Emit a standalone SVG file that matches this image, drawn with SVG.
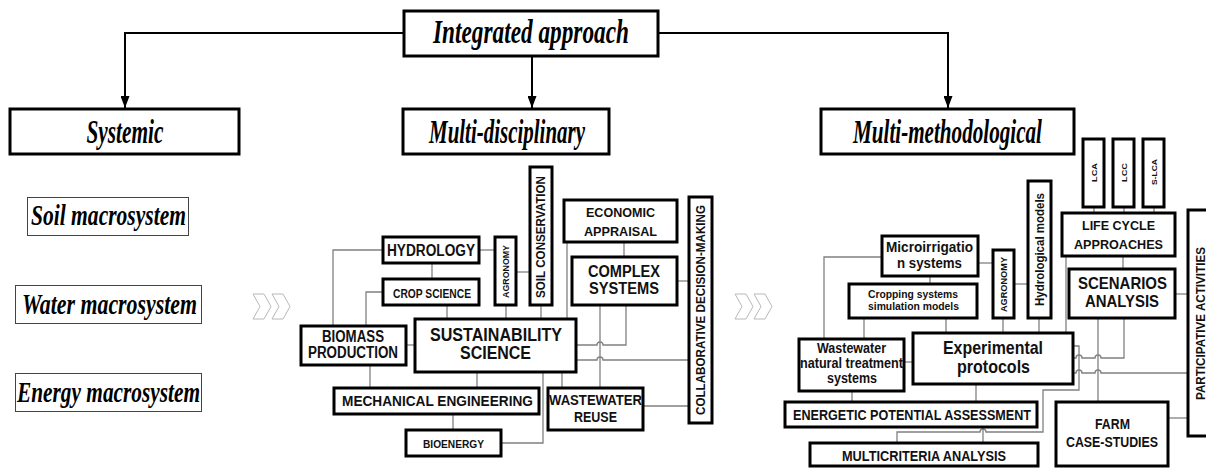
<svg xmlns="http://www.w3.org/2000/svg" width="1206" height="468" viewBox="0 0 1206 468">
<style>
.box{fill:#fff;stroke:#000;stroke-width:3}
.thin{fill:#fff;stroke:#444;stroke-width:1}
.c{fill:none;stroke:#808080;stroke-width:1.3}
.ar{fill:none;stroke:#000;stroke-width:2}
.chev{fill:#fff;stroke:#b8b8b8;stroke-width:1}
.t{font-family:"Liberation Sans",Arial,sans-serif;font-weight:bold;text-anchor:middle;fill:#111}
.s{font-family:"Liberation Serif","Times New Roman",serif;font-weight:bold;font-style:italic;text-anchor:middle;fill:#000}
</style>
<defs>
<marker id="ah" viewBox="0 0 12 9" refX="12" refY="4.5" markerWidth="12" markerHeight="9" markerUnits="userSpaceOnUse" orient="auto">
<path d="M0,0 L12,4.5 L0,9 z" fill="#000"/>
</marker>
</defs>

<g id="connectors">
<path class="ar" d="M404 33 H125 V108" marker-end="url(#ah)"/>
<path class="ar" d="M532 56 V108" marker-end="url(#ah)"/>
<path class="ar" d="M658 33 H948 V108" marker-end="url(#ah)"/>

<path class="c" d="M383 250 H333 V326"/>
<path class="c" d="M479 250 H495"/>
<path class="c" d="M432 263 V279"/>
<path class="c" d="M383 292 H366 V326"/>
<path class="c" d="M447 305 V319"/>
<path class="c" d="M506 305 V319"/>
<path class="c" d="M516 272 H530"/>
<path class="c" d="M541 305 V319"/>
<path class="c" d="M406 345 H415"/>
<path class="c" d="M370 365 V388"/>
<path class="c" d="M477 372 V388"/>
<path class="c" d="M453 414 V430"/>
<path class="c" d="M501 443 H543 V372"/>
<path class="c" d="M562 372 V388"/>
<path class="c" d="M567 242 V319"/>
<path class="c" d="M624 242 V257"/>
<path class="c" d="M677 281 H689"/>
<path class="c" d="M576 345 H597 a3 3 0 0 1 6 0 H626 V305"/>
<path class="c" d="M600 305 V388"/>
<path class="c" d="M576 360 H597 a3 3 0 0 1 6 0 H689"/>
<path class="c" d="M643 406 H689"/>

<path class="c" d="M882 257 H824 V339"/>
<path class="c" d="M978 263 H993"/>
<path class="c" d="M930 276 V284"/>
<path class="c" d="M864 318 V339"/>
<path class="c" d="M946 318 V333"/>
<path class="c" d="M904 362 H913"/>
<path class="c" d="M1014 284 H1028"/>
<path class="c" d="M1003 318 V333"/>
<path class="c" d="M1039 318 V333"/>
<path class="c" d="M1066 256 V333"/>
<path class="c" d="M1094 207 V213 M1124 207 V213 M1154 207 V213"/>
<path class="c" d="M1123 256 V269"/>
<path class="c" d="M1175 294 H1188"/>
<path class="c" d="M1073 358 H1076 a3 3 0 0 1 6 0 H1095 a3 3 0 0 1 6 0 H1124 V318"/>
<path class="c" d="M1098 318 V402"/>
<path class="c" d="M1073 373 H1076 a3 3 0 0 1 6 0 H1095 a3 3 0 0 1 6 0 H1188"/>
<path class="c" d="M1073 346 H1079 V390 H1043 V432 H986 a3 3 0 0 0 -6 0 H897 V443"/>
<path class="c" d="M983 427 V443"/>
<path class="c" d="M976 384 V402"/>
<path class="c" d="M852 391 V402"/>
<path class="c" d="M1168 418 H1188"/>
</g>

<g id="chevrons-left">
<path class="chev" d="M253 294 H264 L271 306.5 L264 319 H253 L260 306.5 Z"/>
<path class="chev" d="M272 294 H283 L290 306.5 L283 319 H272 L279 306.5 Z"/>
</g>
<g id="chevrons-right">
<path class="chev" d="M735 294 H746 L753 306.5 L746 319 H735 L742 306.5 Z"/>
<path class="chev" d="M754 294 H765 L772 306.5 L765 319 H754 L761 306.5 Z"/>
</g>

<g id="integrated">
<rect class="box" x="404" y="11" width="254" height="45"/>
<text class="s" x="531" y="43" font-size="34" textLength="196" lengthAdjust="spacingAndGlyphs">Integrated approach</text>
</g>
<g id="systemic">
<rect class="box" x="10" y="109" width="229" height="45"/>
<text class="s" x="125" y="143" font-size="33" textLength="77" lengthAdjust="spacingAndGlyphs">Systemic</text>
</g>
<g id="multidisciplinary">
<rect class="box" x="403" y="109" width="206" height="45"/>
<text class="s" x="507" y="143" font-size="33" textLength="156" lengthAdjust="spacingAndGlyphs">Multi-disciplinary</text>
</g>
<g id="multimethodological">
<rect class="box" x="821" y="109" width="253" height="45"/>
<text class="s" x="947.5" y="143" font-size="33" textLength="189" lengthAdjust="spacingAndGlyphs">Multi-methodological</text>
</g>

<g id="soil">
<rect class="thin" x="27.5" y="197.5" width="161" height="38"/>
<text class="s" x="108.5" y="225" font-size="30" textLength="155" lengthAdjust="spacingAndGlyphs">Soil macrosystem</text>
</g>
<g id="water">
<rect class="thin" x="15.5" y="285.5" width="186" height="38"/>
<text class="s" x="109.5" y="314" font-size="29" textLength="175" lengthAdjust="spacingAndGlyphs">Water macrosystem</text>
</g>
<g id="energy">
<rect class="thin" x="15.5" y="373.5" width="186" height="38"/>
<text class="s" x="108.5" y="402" font-size="30" textLength="183" lengthAdjust="spacingAndGlyphs">Energy macrosystem</text>
</g>

<g id="hydrology">
<rect class="box" x="383" y="237" width="96" height="26"/>
<text class="t" x="431" y="256" font-size="16" textLength="88" lengthAdjust="spacingAndGlyphs">HYDROLOGY</text>
</g>
<g id="crop-science">
<rect class="box" x="383" y="279" width="96" height="26"/>
<text class="t" x="432" y="298" font-size="12" textLength="78" lengthAdjust="spacingAndGlyphs">CROP SCIENCE</text>
</g>
<g id="agronomy-1">
<rect class="box" x="495" y="237" width="21" height="68"/>
<text class="t" transform="translate(505.5,271.5) rotate(-90)" x="0" y="3.2" font-size="9" textLength="53" lengthAdjust="spacingAndGlyphs">AGRONOMY</text>
</g>
<g id="soil-conservation">
<rect class="box" x="530" y="167" width="22" height="138"/>
<text class="t" transform="translate(541,237) rotate(-90)" x="0" y="4.3" font-size="12" textLength="122" lengthAdjust="spacingAndGlyphs">SOIL CONSERVATION</text>
</g>
<g id="biomass">
<rect class="box" x="301" y="326" width="105" height="39"/>
<text class="t" x="353" y="342" font-size="16" textLength="62" lengthAdjust="spacingAndGlyphs">BIOMASS</text>
<text class="t" x="353" y="358" font-size="16" textLength="90" lengthAdjust="spacingAndGlyphs">PRODUCTION</text>
</g>
<g id="sustainability">
<rect class="box" x="415" y="319" width="161" height="53"/>
<text class="t" x="496" y="341" font-size="18" textLength="132" lengthAdjust="spacingAndGlyphs">SUSTAINABILITY</text>
<text class="t" x="495.5" y="359" font-size="18" textLength="71" lengthAdjust="spacingAndGlyphs">SCIENCE</text>
</g>
<g id="mechanical">
<rect class="box" x="334" y="388" width="205" height="26"/>
<text class="t" x="437.5" y="406" font-size="15" textLength="191" lengthAdjust="spacingAndGlyphs">MECHANICAL ENGINEERING</text>
</g>
<g id="bioenergy">
<rect class="box" x="406" y="430" width="95" height="26"/>
<text class="t" x="453.5" y="448" font-size="11" textLength="61" lengthAdjust="spacingAndGlyphs">BIOENERGY</text>
</g>
<g id="economic">
<rect class="box" x="564" y="200" width="113" height="42"/>
<text class="t" x="620.5" y="217" font-size="13" textLength="69" lengthAdjust="spacingAndGlyphs">ECONOMIC</text>
<text class="t" x="620.5" y="236" font-size="13" textLength="73" lengthAdjust="spacingAndGlyphs">APPRAISAL</text>
</g>
<g id="complex">
<rect class="box" x="572" y="257" width="105" height="48"/>
<text class="t" x="624" y="277" font-size="16" textLength="72" lengthAdjust="spacingAndGlyphs">COMPLEX</text>
<text class="t" x="624" y="294" font-size="16" textLength="70" lengthAdjust="spacingAndGlyphs">SYSTEMS</text>
</g>
<g id="collaborative">
<rect class="box" x="689" y="197" width="23" height="226"/>
<text class="t" transform="translate(700.5,310) rotate(-90)" x="0" y="4.3" font-size="12" textLength="210" lengthAdjust="spacingAndGlyphs">COLLABORATIVE DECISION-MAKING</text>
</g>
<g id="wastewater-reuse">
<rect class="box" x="548" y="388" width="95" height="42"/>
<text class="t" x="595.5" y="405" font-size="14" textLength="93" lengthAdjust="spacingAndGlyphs">WASTEWATER</text>
<text class="t" x="595.5" y="422" font-size="14" textLength="43" lengthAdjust="spacingAndGlyphs">REUSE</text>
</g>

<g id="microirrigation">
<rect class="box" x="882" y="236" width="96" height="40"/>
<text class="t" x="929.5" y="252" font-size="15" textLength="87" lengthAdjust="spacingAndGlyphs">Microirrigatio</text>
<text class="t" x="929.5" y="268" font-size="15" textLength="65" lengthAdjust="spacingAndGlyphs">n systems</text>
</g>
<g id="cropping">
<rect class="box" x="849" y="284" width="128" height="34"/>
<text class="t" x="913" y="298" font-size="11.5" textLength="90" lengthAdjust="spacingAndGlyphs">Cropping systems</text>
<text class="t" x="913.5" y="310" font-size="11.5" textLength="91" lengthAdjust="spacingAndGlyphs">simulation models</text>
</g>
<g id="wastewater-natural">
<rect class="box" x="799" y="339" width="105" height="52"/>
<text class="t" x="851.5" y="353" font-size="14" textLength="69" lengthAdjust="spacingAndGlyphs">Wastewater</text>
<text class="t" x="851.5" y="368" font-size="14" textLength="103" lengthAdjust="spacingAndGlyphs">natural treatment</text>
<text class="t" x="852" y="383" font-size="14" textLength="50" lengthAdjust="spacingAndGlyphs">systems</text>
</g>
<g id="experimental">
<rect class="box" x="913" y="333" width="160" height="51"/>
<text class="t" x="993" y="354" font-size="19" textLength="100" lengthAdjust="spacingAndGlyphs">Experimental</text>
<text class="t" x="993.5" y="373" font-size="19" textLength="73" lengthAdjust="spacingAndGlyphs">protocols</text>
</g>
<g id="energetic">
<rect class="box" x="785" y="402" width="252" height="25"/>
<text class="t" x="912" y="420" font-size="15" textLength="238" lengthAdjust="spacingAndGlyphs">ENERGETIC POTENTIAL ASSESSMENT</text>
</g>
<g id="multicriteria">
<rect class="box" x="810" y="443" width="228" height="23"/>
<text class="t" x="924" y="461" font-size="15" textLength="164" lengthAdjust="spacingAndGlyphs">MULTICRITERIA ANALYSIS</text>
</g>
<g id="agronomy-2">
<rect class="box" x="993" y="250" width="21" height="68"/>
<text class="t" transform="translate(1003.5,284.5) rotate(-90)" x="0" y="3.2" font-size="9" textLength="55" lengthAdjust="spacingAndGlyphs">AGRONOMY</text>
</g>
<g id="hydrological-models">
<rect class="box" x="1028" y="181" width="23" height="137"/>
<text class="t" transform="translate(1039.5,249.5) rotate(-90)" x="0" y="4.3" font-size="12" textLength="113" lengthAdjust="spacingAndGlyphs">Hydrological models</text>
</g>
<g id="lca">
<rect class="box" x="1083" y="139" width="21" height="68"/>
<text class="t" transform="translate(1093.5,172.5) rotate(-90)" x="0" y="3" font-size="8" textLength="19" lengthAdjust="spacingAndGlyphs">LCA</text>
</g>
<g id="lcc">
<rect class="box" x="1113" y="139" width="21" height="68"/>
<text class="t" transform="translate(1123.5,172.5) rotate(-90)" x="0" y="3" font-size="8" textLength="19" lengthAdjust="spacingAndGlyphs">LCC</text>
</g>
<g id="s-lca">
<rect class="box" x="1143" y="139" width="21" height="68"/>
<text class="t" transform="translate(1153.5,172) rotate(-90)" x="0" y="3" font-size="8" textLength="26" lengthAdjust="spacingAndGlyphs">S-LCA</text>
</g>
<g id="life-cycle">
<rect class="box" x="1062" y="213" width="113" height="43"/>
<text class="t" x="1118.5" y="230" font-size="13" textLength="73" lengthAdjust="spacingAndGlyphs">LIFE CYCLE</text>
<text class="t" x="1118.5" y="249" font-size="13" textLength="89" lengthAdjust="spacingAndGlyphs">APPROACHES</text>
</g>
<g id="scenarios">
<rect class="box" x="1069" y="269" width="106" height="49"/>
<text class="t" x="1122.5" y="289" font-size="17" textLength="89" lengthAdjust="spacingAndGlyphs">SCENARIOS</text>
<text class="t" x="1122" y="307" font-size="17" textLength="74" lengthAdjust="spacingAndGlyphs">ANALYSIS</text>
</g>
<g id="participative">
<rect class="box" x="1188" y="210" width="30" height="226"/>
<text class="t" transform="translate(1200.5,323.5) rotate(-90)" x="0" y="4.6" font-size="13" textLength="153" lengthAdjust="spacingAndGlyphs">PARTICIPATIVE ACTIVITIES</text>
</g>
<g id="farm">
<rect class="box" x="1056" y="402" width="112" height="64"/>
<text class="t" x="1112.5" y="429" font-size="14" textLength="35" lengthAdjust="spacingAndGlyphs">FARM</text>
<text class="t" x="1112" y="447" font-size="14" textLength="92" lengthAdjust="spacingAndGlyphs">CASE-STUDIES</text>
</g>
</svg>
